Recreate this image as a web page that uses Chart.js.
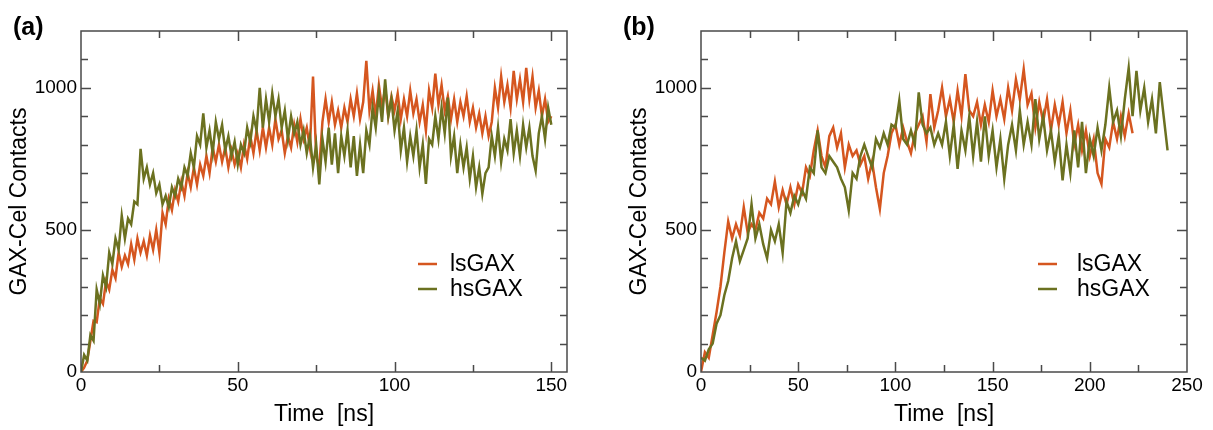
<!DOCTYPE html>
<html>
<head>
<meta charset="utf-8">
<script src="https://cdn.jsdelivr.net/npm/chart.js@4.4.1/dist/chart.umd.min.js"></script>
<style>
  body { margin: 0; background: #fff; width: 1213px; height: 430px; overflow: hidden; position: relative; }
  .panel { position: absolute; top: 0; height: 430px; }
</style>
</head>
<body>
<div class="panel" style="left:0;width:600px"><canvas id="chartA" width="600" height="430"></canvas></div>
<div class="panel" style="left:620px;width:593px"><canvas id="chartB" width="593" height="430"></canvas></div>
<script>
// panel (a): time in ns, contacts
const timeA = [
  0,1,2,3,4,5,6,7,8,9,10,11,12,13,14,15,16,17,18,19,20,21,22,23,24,25,26,27,28,29,
  30,31,32,33,34,35,36,37,38,39,40,41,42,43,44,45,46,47,48,49,50,51,52,53,54,55,56,57,58,59,
  60,61,62,63,64,65,66,67,68,69,70,71,72,73,74,75,76,77,78,79,80,81,82,83,84,85,86,87,88,89,
  90,91,92,93,94,95,96,97,98,99,100,101,102,103,104,105,106,107,108,109,110,111,112,113,114,115,116,117,118,119,
  120,121,122,123,124,125,126,127,128,129,130,131,132,133,134,135,136,137,138,139,140,141,142,143,144,145,146,147,148,149,150
];
const lsA = [
  0, 15, 40, 110, 180, 175, 260, 240, 320, 290,
  360, 330, 420, 370, 410, 380, 450, 395, 470, 420,
  460, 410, 480, 430, 500, 420, 560, 520, 610, 570,
  640, 600, 670, 620, 700, 650, 720, 660, 730, 690,
  760, 700, 790, 740, 800, 740, 790, 720, 780, 730,
  770, 720, 800, 750, 830, 770, 850, 780, 860, 790,
  860, 800, 890, 820, 850, 770, 830, 790, 870, 810,
  890, 820, 860, 790, 1040, 760, 720, 880, 960, 880,
  950, 870, 920, 860, 930, 880, 960, 900, 980, 890,
  950, 1095, 920, 990, 900, 1010, 930, 1000, 900, 970,
  920, 980, 890, 960, 900, 990, 910, 960, 880, 940,
  850, 990, 930, 1050, 940, 1010, 920, 970, 890, 960,
  880, 950, 900, 970, 880, 930, 860, 910, 840, 900,
  830, 880, 1000, 930, 1040, 950, 1010, 930, 1060, 960,
  1030, 950, 1070, 960, 1040, 930, 990, 900, 960, 880,
  900
];
const hsA = [
  0, 60, 40, 130, 110, 290, 240, 340, 300, 420,
  380, 470, 430, 550, 470, 540, 520, 600, 590, 785,
  680, 720, 660, 700, 630, 660, 590, 620, 580, 650,
  620, 680, 650, 720, 690, 770, 720, 830, 800, 910,
  790, 850, 770, 880, 820, 870, 780, 830, 760, 810,
  730, 800, 770, 860, 810, 900, 850, 1000, 860, 960,
  880, 980, 900, 960, 860, 920, 820, 900, 840, 880,
  800, 850, 770, 830, 720, 800, 660, 820, 740, 860,
  730, 840, 700, 830, 760, 850, 720, 830, 690, 800,
  700, 850, 800, 930, 860, 980, 880, 1030, 900, 960,
  850, 920, 780, 860, 740, 830, 760, 850, 720, 800,
  662, 820, 800, 900, 820, 930, 840, 966, 760, 830,
  700, 800, 720, 790, 680, 760, 650, 720, 627, 700,
  720, 830, 760, 860, 740, 820, 780, 890, 770, 850,
  760, 870, 790, 860, 760, 709, 840, 900, 820, 930,
  870
];

// panel (b)
const timeB = [
  0,2,4,6,8,10,12,14,16,18,20,22,24,26,28,30,32,34,36,38,40,42,44,46,48,50,52,54,56,58,
  60,62,64,66,68,70,72,74,76,78,80,82,84,86,88,90,92,94,96,98,100,102,104,106,108,110,112,114,116,118,
  120,122,124,126,128,130,132,134,136,138,140,142,144,146,148,150,152,154,156,158,160,162,164,166,168,170,172,174,176,178,
  180,182,184,186,188,190,192,194,196,198,200,202,204,206,208,210,212,214,216,218,220,222,224,226,228,230,232,234,236,238,240
];
const lsB = [
  0, 70, 50, 130, 210, 300, 420, 530, 470, 520,
  480, 580, 490, 520, 500, 560, 540, 610, 590, 670,
  580, 640, 590, 650, 590, 660, 630, 720, 690, 780,
  850, 760, 720, 830, 860, 790, 840, 720, 800, 760,
  780, 730, 760, 680, 740, 650, 574, 700, 760, 840,
  870, 800, 860, 810, 770, 840, 870, 900, 810, 978,
  860, 920, 1000, 900, 960, 880, 990, 900, 1048, 920,
  900, 950, 870, 940, 880, 990, 900, 960, 890, 1000,
  920, 1030, 960, 1065, 940, 980, 860, 950, 880, 960,
  850, 940, 870, 950, 840, 920, 800, 870, 780, 850,
  760, 820, 700, 662, 820, 790, 880, 820, 900, 830,
  910, 840
];
const hsB = [
  50, 40, 80, 100, 170, 200, 270, 320, 400, 460,
  390, 430, 470, 590, 470, 520, 450, 400, 500, 460,
  520, 420, 600, 560, 620, 590, 640, 610, 720, 700,
  850, 720, 700, 760, 740, 720, 680, 650, 569, 700,
  680, 760, 800, 760, 720, 820, 790, 840, 800, 870,
  860, 955, 820, 800, 850, 800, 984, 870, 840, 860,
  800, 840, 800, 880, 760, 870, 715, 850, 780, 900,
  760, 880, 740, 900, 760, 850, 720, 820, 680, 800,
  870, 780, 920, 800, 880, 800, 960, 820, 900, 780,
  850, 740, 830, 674, 800, 700, 850, 720, 880, 700,
  820, 760, 860, 780, 870, 1000, 880, 920, 830, 960,
  1070, 900, 1060, 920, 1000, 880, 960, 840, 1020, 900,
  780
];

const xTicksA = [0, 50, 100, 150];
const xTicksB = [0, 50, 100, 150, 200, 250];
const yTicks = [0, 500, 1000];
const seriesNames = ['lsGAX', 'hsGAX'];
const seriesColors = ['#d5561f', '#6b7120'];

const FONT = '"Liberation Sans", Arial, Helvetica, sans-serif';

function pairs(t, v) {
  return v.map((y, i) => ({ x: t[i], y: y }));
}

// box, inward ticks on all four sides, panel tag and legend
const framePlugin = {
  id: 'frame',
  afterDraw(chart, args, opts) {
    const ctx = chart.ctx;
    const a = chart.chartArea;
    const xs = chart.scales.x, ys = chart.scales.y;
    ctx.save();
    ctx.strokeStyle = '#4a4a4a';
    ctx.lineWidth = 1.5;
    ctx.beginPath();
    for (let v = 100; v < ys.max; v += 100) {
      const y = Math.round(ys.getPixelForValue(v)) + 0.5;
      const len = v % 500 === 0 ? 10 : 7;
      ctx.moveTo(a.left, y); ctx.lineTo(a.left + len, y);
      ctx.moveTo(a.right, y); ctx.lineTo(a.right - len, y);
    }
    for (let v = 25; v < xs.max; v += 25) {
      const x = Math.round(xs.getPixelForValue(v)) + 0.5;
      const len = v % 50 === 0 ? 10 : 7;
      ctx.moveTo(x, a.bottom); ctx.lineTo(x, a.bottom - len);
      ctx.moveTo(x, a.top); ctx.lineTo(x, a.top + len);
    }
    ctx.stroke();
    ctx.strokeRect(a.left, a.top, a.right - a.left, a.bottom - a.top);

    ctx.fillStyle = '#000';
    ctx.font = 'bold 25px ' + FONT;
    ctx.textBaseline = 'alphabetic';
    ctx.textAlign = 'left';
    ctx.fillText(opts.tag, opts.tagX, 35);

    ctx.font = '23px ' + FONT;
    ctx.textBaseline = 'middle';
    seriesNames.forEach((name, i) => {
      const y = a.top + opts.legendY + i * 25;
      ctx.strokeStyle = seriesColors[i];
      ctx.lineWidth = 2.5;
      ctx.beginPath();
      ctx.moveTo(a.left + opts.legendX, y);
      ctx.lineTo(a.left + opts.legendX + 19, y);
      ctx.stroke();
      ctx.fillStyle = '#000';
      ctx.fillText(name, a.left + opts.textX, y + 1);
    });
    ctx.restore();
  }
};

function makePanel(id, tag, tagX, timeLs, ls, timeHs, hs, xMax, xTicks, padRight, textX) {
  return new Chart(document.getElementById(id), {
    type: 'line',
    data: {
      datasets: [
        { label: seriesNames[0], data: pairs(timeLs, ls), borderColor: seriesColors[0], borderWidth: 2.5, pointRadius: 0, tension: 0, order: 2 },
        { label: seriesNames[1], data: pairs(timeHs, hs), borderColor: seriesColors[1], borderWidth: 2.5, pointRadius: 0, tension: 0, order: 1 }
      ]
    },
    options: {
      responsive: false,
      animation: false,
      layout: { padding: { top: 31, right: padRight, left: 0, bottom: 0 } },
      plugins: {
        legend: { display: false },
        tooltip: { enabled: false },
        frame: { tag: tag, tagX: tagX, legendX: 337, legendY: 233, textX: textX }
      },
      scales: {
        x: {
          type: 'linear', min: 0, max: xMax,
          grid: { display: false, drawTicks: false },
          border: { display: false },
          afterBuildTicks: s => { s.ticks = xTicks.map(v => ({ value: v })); },
          afterFit: s => { s.height = 58; },
          ticks: { font: { family: FONT, size: 19 }, color: '#000', padding: 2, maxRotation: 0, autoSkip: false,
                   callback: v => String(v) },
          title: { display: true, text: 'Time  [ns]', font: { family: FONT, size: 23 }, color: '#000', padding: 1.5 }
        },
        y: {
          min: 0, max: 1200,
          grid: { display: false, drawTicks: false },
          border: { display: false },
          afterBuildTicks: s => { s.ticks = yTicks.map(v => ({ value: v })); },
          afterFit: s => { s.width = 81; },
          ticks: { font: { family: FONT, size: 19 }, color: '#000', padding: 4, callback: v => String(v) },
          title: { display: true, text: 'GAX-Cel Contacts', font: { family: FONT, size: 23 }, color: '#000', padding: 6 }
        }
      }
    },
    plugins: [framePlugin]
  });
}

makePanel('chartA', '(a)', 13, timeA, lsA, timeA, hsA, 155, xTicksA, 33, 369);
makePanel('chartB', '(b)', 3, timeB.slice(0, lsB.length), lsB, timeB, hsB, 250, xTicksB, 26, 376);
</script>
</body>
</html>
